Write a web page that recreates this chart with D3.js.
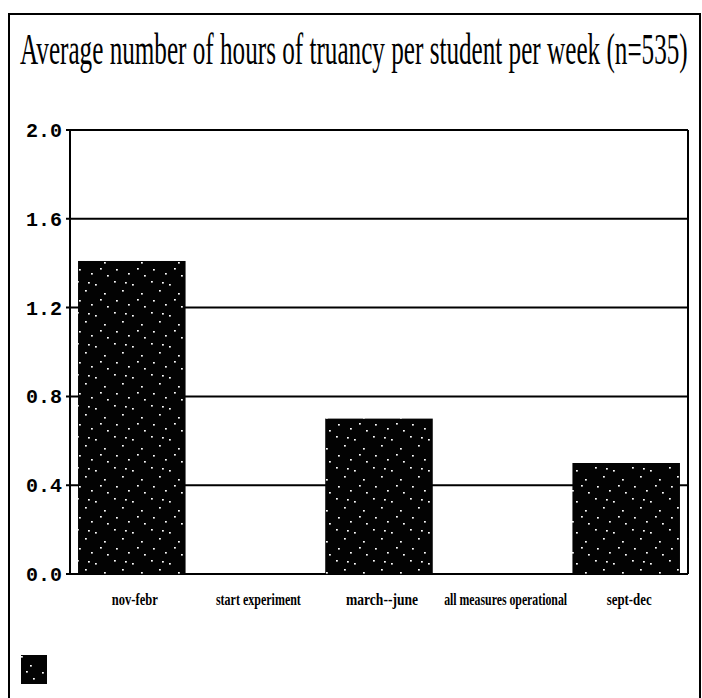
<!DOCTYPE html>
<html>
<head>
<meta charset="utf-8">
<script src="https://cdn.jsdelivr.net/npm/d3@7"></script>
<style>
  html, body { margin: 0; padding: 0; background: #fff; }
  svg { display: block; }
</style>
</head>
<body>
<div id="chart"></div>
<script>
const titleText = "Average number of hours of truancy per student per week (n=535)";
const categories = ["nov-febr", "start experiment", "march--june", "all measures operational", "sept-dec"];
const values = [1.41, 0, 0.70, 0, 0.50];
const yTicks = [0.0, 0.4, 0.8, 1.2, 1.6, 2.0];
const labelWidths = [46, 85, 72, 123, 45];

const W = 702, H = 698;
const margin = { left: 70, right: 14, top: 130, bottom: 124 };

const svg = d3.select("#chart").append("svg")
  .attr("width", W).attr("height", H);

// speckle texture
const defs = svg.append("defs");
const pat = defs.append("pattern")
  .attr("id", "speckle").attr("patternUnits", "userSpaceOnUse")
  .attr("width", 37).attr("height", 31);
pat.append("rect").attr("width", 37).attr("height", 31).attr("fill", "#030303");
const dots = [[3,2],[21,5],[11,11],[30,14],[5,21],[17,25],[33,27],[26,20],[14,3]];
pat.selectAll("rect.dot").data(dots).enter().append("rect")
  .attr("class", "dot")
  .attr("x", d => d[0]).attr("y", d => d[1])
  .attr("width", 1.8).attr("height", 1.6).attr("fill", "#fff");

// outer frame
svg.append("rect")
  .attr("x", 9).attr("y", 14).attr("width", 691).attr("height", 700)
  .attr("fill", "none").attr("stroke", "#000").attr("stroke-width", 2);

// title, horizontally condensed to fit
const title = svg.append("text")
  .style("font-family", "'Liberation Serif', serif")
  .style("font-size", "44px")
  .attr("fill", "#000")
  .text(titleText);
const tw = title.node().getComputedTextLength();
title.attr("transform", `translate(20,64) scale(${668 / tw},1)`);

const x = d3.scaleBand()
  .domain(categories)
  .range([margin.left, W - margin.right])
  .paddingInner(0.13).paddingOuter(0.065);

const y = d3.scaleLinear()
  .domain([0, 2.0])
  .range([H - margin.bottom, margin.top]);

// gridlines
svg.append("g").selectAll("line").data(yTicks).enter().append("line")
  .attr("x1", margin.left - 4).attr("x2", W - margin.right)
  .attr("y1", d => y(d)).attr("y2", d => y(d))
  .attr("stroke", "#000").attr("stroke-width", 2);

// bars
svg.append("g").selectAll("rect").data(values).enter().append("rect")
  .attr("x", (d, i) => x(categories[i]))
  .attr("width", x.bandwidth())
  .attr("y", d => y(d))
  .attr("height", d => y(0) - y(d))
  .attr("fill", "url(#speckle)");

// plot frame (left axis, right border)
svg.append("line")
  .attr("x1", margin.left).attr("x2", margin.left)
  .attr("y1", y(2.0)).attr("y2", y(0))
  .attr("stroke", "#000").attr("stroke-width", 2);
svg.append("line")
  .attr("x1", W - margin.right).attr("x2", W - margin.right)
  .attr("y1", y(2.0)).attr("y2", y(0))
  .attr("stroke", "#000").attr("stroke-width", 2);

// y axis labels
const yAxis = d3.axisLeft(y).tickValues(yTicks).tickFormat(d3.format(".1f")).tickSize(0).tickPadding(8);
const ya = svg.append("g").attr("transform", `translate(${margin.left},0)`).call(yAxis);
ya.select(".domain").remove();
ya.selectAll("text")
  .style("font-family", "'Liberation Mono', 'DejaVu Sans Mono', monospace")
  .style("font-size", "20px")
  .style("font-weight", "bold")
  .attr("fill", "#000");

// x axis labels, each condensed to its measured width
const xAxis = d3.axisBottom(x).tickSize(0).tickPadding(0);
const xa = svg.append("g").attr("transform", `translate(0,${y(0)})`).call(xAxis);
xa.select(".domain").remove();
xa.selectAll("text")
  .attr("dy", 0)
  .style("font-family", "'Liberation Serif', serif")
  .style("font-size", "17px")
  .style("font-weight", "bold")
  .attr("fill", "#000")
  .each(function(d, i) {
    const t = d3.select(this);
    const w = this.getComputedTextLength();
    const sx = labelWidths[i] / w;
    t.attr("y", 0).attr("x", 0)
     .attr("transform", `translate(3,31) scale(${sx},1)`);
  });

// legend swatch
svg.append("rect")
  .attr("x", 21).attr("y", 655).attr("width", 26).attr("height", 29)
  .attr("fill", "url(#speckle)");
</script>
</body>
</html>
